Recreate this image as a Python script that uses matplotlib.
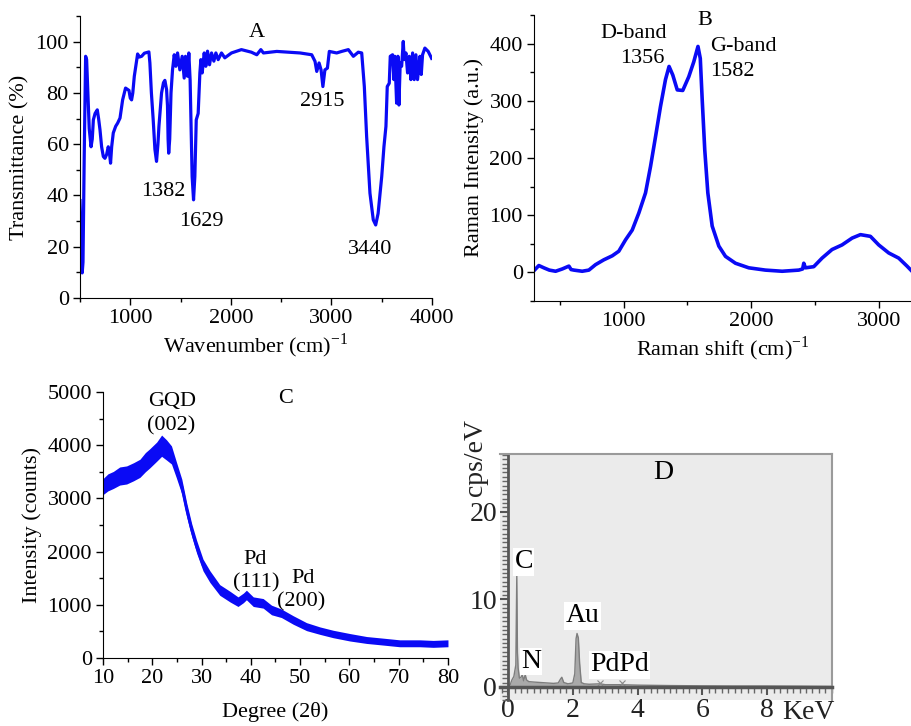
import matplotlib
matplotlib.use("Agg")
import numpy as np
import matplotlib.pyplot as plt
from matplotlib.ticker import MultipleLocator

# (A) FTIR spectrum
ir_wavenumber = [500, 507, 512, 522, 530, 542, 556, 566, 576, 592,
                 610, 622, 633, 650, 672, 685, 699, 715, 732, 748,
                 765, 781, 792, 804, 815, 831, 855, 874, 898, 924,
                 953, 987, 1000, 1013, 1025, 1040, 1073, 1090, 1113, 1140,
                 1185, 1195, 1210, 1228, 1245, 1261, 1275, 1285, 1311, 1330,
                 1344, 1361, 1370, 1376, 1382, 1392, 1405, 1420, 1437, 1453,
                 1470, 1493, 1516, 1536, 1549, 1569, 1582, 1595, 1602, 1615,
                 1629, 1642, 1656, 1675, 1692, 1702, 1715, 1735, 1751, 1768,
                 1788, 1808, 1831, 1851, 1874, 1907, 1940, 2006, 2105, 2204,
                 2258, 2298, 2324, 2457, 2688, 2804, 2837, 2854, 2877, 2897,
                 2915, 2935, 2960, 2979, 3052, 3102, 3168, 3218, 3267, 3301,
                 3327, 3350, 3383, 3416, 3440, 3464, 3500, 3522, 3542, 3555,
                 3575, 3585, 3608, 3621, 3631, 3648, 3661, 3671, 3684, 3698,
                 3714, 3724, 3741, 3757, 3774, 3790, 3807, 3823, 3840, 3856,
                 3880, 3893, 3906, 3929, 3962, 3996]
ir_transmittance = [38, 30, 11, 9.8, 14, 55, 94.3, 93, 82.5, 66,
                    59, 62, 69.5, 72, 73.4, 70, 65.6, 59, 55.2, 54.5,
                    56, 59, 57, 52.6, 59, 64.4, 67, 68.2, 70.2, 77.3,
                    81.9, 81, 78, 77.3, 80, 86.5, 95.2, 94, 94.3, 95.5,
                    96, 91.7, 80, 69.5, 58, 53.3, 60, 67, 80, 84,
                    84.9, 81.3, 75, 62, 56.5, 62, 80, 89, 94.9, 90.4,
                    95.6, 89, 94.3, 85.8, 94.3, 86.5, 95.6, 85, 72.1, 47.4,
                    38.3, 47.4, 69.5, 72, 87.8, 93, 87.8, 95.6, 90.4, 96.3,
                    91, 95.6, 92.4, 95.6, 93, 95.6, 93.7, 95.6, 96.9, 95.9,
                    94.9, 96.9, 95.6, 96.2, 95.6, 94.9, 92.3, 88.4, 91.7, 89,
                    82.5, 89, 89.7, 96.2, 95.6, 96.2, 96.9, 94.3, 95.9, 95.6,
                    82.5, 63, 40.9, 30.5, 28.5, 33, 47.4, 59, 67, 82.5,
                    83.8, 94.3, 94.9, 85.2, 94.3, 76, 94.3, 75.3, 91.7, 90.4,
                    100.1, 93, 95.6, 87.8, 94.3, 85.2, 95.6, 85.2, 94.9, 85.2,
                    94.3, 87.2, 94.9, 97.5, 96.2, 93.5]
ir_peaks = ["1382", "1629", "2915", "3440"]

# (B) Raman spectrum
raman_shift = [300, 338, 377, 420, 469, 521, 573, 590, 612, 677,
               729, 781, 846, 912, 963, 1016, 1068, 1120, 1172, 1211,
               1250, 1289, 1328, 1356, 1385, 1420, 1463, 1510, 1549, 1582,
               1600, 1615, 1635, 1659, 1693, 1745, 1797, 1875, 1979, 2109,
               2240, 2370, 2400, 2409, 2422, 2487, 2552, 2630, 2708, 2787,
               2852, 2930, 2995, 3073, 3151, 3216, 3255]
raman_intensity = [3, 12, 8, 4, 2, 6, 11, 5, 4, 2,
                   4, 13.5, 22, 29, 37, 57, 74, 104, 139, 185,
                   237, 290, 337, 360, 345, 319, 318, 342, 368, 395,
                   374, 302, 214, 139, 81, 46, 28, 16, 8, 4,
                   2, 4, 6, 16, 8, 10, 25, 40, 48, 60,
                   66, 63, 48, 34, 25, 11, 2]

# (C) XRD pattern: mean counts and half-width of the noise band
xrd_deg = [10, 11, 12.1, 13.4, 14.8, 16.2, 17.5, 18.6, 19.5, 20.9,
           21.9, 22.9, 23.9, 24.9, 26, 27, 28, 29, 30.3, 31.7,
           33.7, 35.8, 37.4, 38.5, 39.1, 40.5, 42.5, 44.2, 46.2, 48.6,
           51.3, 54, 56.7, 60.1, 63.5, 66.9, 70.2, 74.3, 77, 80]
xrd_counts = [3220, 3300, 3346, 3420, 3440, 3500, 3565, 3680, 3753, 3878,
              3990, 3910, 3816, 3534, 3220, 2782, 2406, 2092, 1748, 1529,
              1278, 1152, 1058, 1130, 1184, 1058, 1027, 902, 840, 714,
              589, 514, 451, 389, 338, 307, 276, 276, 265, 276]
xrd_noise = [150, 160, 160, 170, 170, 170, 170, 180, 180, 180,
             200, 190, 170, 150, 140, 130, 120, 120, 110, 110,
             100, 100, 90, 90, 90, 90, 90, 90, 80, 80,
             75, 70, 70, 70, 65, 65, 65, 65, 65, 65]

# (D) EDS spectrum
eds_kev = [0.0, 0.06, 0.12, 0.18, 0.24, 0.27, 0.29, 0.31, 0.35, 0.40,
           0.44, 0.48, 0.53, 0.57, 0.64, 0.80, 1.0, 1.2, 1.4, 1.55,
           1.62, 1.66, 1.72, 1.85, 2.0, 2.06, 2.1, 2.13, 2.17, 2.21,
           2.26, 2.35, 2.5, 2.84, 3.0, 3.5, 4.0, 5.0, 6.0, 7.0,
           8.0, 9.0, 10.0]
eds_cps = [0.0, 0.2, 0.8, 1.2, 2.5, 12.8, 4.0, 2.2, 1.0, 1.1,
           1.4, 0.7, 1.4, 0.8, 0.6, 0.55, 0.5, 0.45, 0.4, 0.45,
           0.9, 1.1, 0.5, 0.35, 0.45, 1.5, 5.5, 6.1, 5.6, 2.7,
           0.5, 0.35, 0.3, 0.35, 0.25, 0.25, 0.2, 0.15, 0.12, 0.1,
           0.1, 0.08, 0.05]
pd_lines = [2.84, 3.52]

plt.rcParams["font.family"] = ["Liberation Serif", "DejaVu Serif"]
plt.rcParams["font.size"] = 16
plt.rcParams["mathtext.fontset"] = "custom"
plt.rcParams["mathtext.rm"] = "Liberation Serif"

BLUE = "#0a0af5"

fig = plt.figure(figsize=(9.12, 7.26), dpi=100)


def tidy(ax):
    ax.spines["top"].set_visible(False)
    ax.spines["right"].set_visible(False)
    ax.tick_params(which="major", direction="out", length=5, width=1, labelsize=16, pad=3)
    ax.tick_params(which="minor", direction="out", length=3, width=1)


# --- A ---
ax = fig.add_axes([0.0877, 0.5895, 0.386, 0.3884])
ax.plot(ir_wavenumber, ir_transmittance, color=BLUE, lw=2.3)
ax.set_xlim(500, 4000)
ax.set_ylim(0, 110)
ax.set_xticks([1000, 2000, 3000, 4000])
ax.set_yticks(range(0, 101, 20))
ax.xaxis.set_minor_locator(MultipleLocator(500))
ax.yaxis.set_minor_locator(MultipleLocator(10))
tidy(ax)
ax.set_xlabel("Wavenumber (cm)$^{-1}$", labelpad=2)
ax.set_ylabel("Transmittance (%)", labelpad=4)
ax.text(2261, 103.5, "A", ha="center", va="center")
for lbl, x, y in zip(ir_peaks, [1328, 1705, 2907, 3383], [41.4, 30, 76.5, 19]):
    ax.text(x, y, lbl, ha="center", va="center")

# --- B ---
ax = fig.add_axes([0.5855, 0.5854, 0.4145, 0.394])
ax.plot(raman_shift, raman_intensity, color=BLUE, lw=2.6)
ax.set_xlim(300, 3255)
ax.set_ylim(-50, 450)
ax.set_xticks([1000, 2000, 3000])
ax.set_yticks(range(0, 401, 100))
ax.xaxis.set_minor_locator(MultipleLocator(500))
ax.yaxis.set_minor_locator(MultipleLocator(50))
tidy(ax)
ax.set_xlabel("Raman shift (cm)$^{-1}$", labelpad=2)
ax.set_ylabel("Raman Intensity (a.u.)", labelpad=4)
ax.text(1633, 440, "B", ha="center", va="center")
ax.text(1080, 418, "D-band", ha="center", va="center")
ax.text(1148, 374, "1356", ha="center", va="center")
ax.text(1680, 394, "G-band", ha="left", va="center")
ax.text(1680, 352, "1582", ha="left", va="center")

# --- C ---
ax = fig.add_axes([0.1129, 0.0937, 0.3783, 0.3664])
xc = np.array(xrd_counts, dtype=float)
xn = np.array(xrd_noise, dtype=float)
ax.fill_between(xrd_deg, xc - xn, xc + xn, color=BLUE, lw=0)
ax.plot(xrd_deg, xc, color=BLUE, lw=2)
ax.set_xlim(10, 80)
ax.set_ylim(0, 5000)
ax.set_xticks(range(10, 81, 10))
ax.set_yticks(range(0, 5001, 1000))
ax.xaxis.set_minor_locator(MultipleLocator(5))
ax.yaxis.set_minor_locator(MultipleLocator(500))
tidy(ax)
ax.set_xlabel("Degree (2θ)", labelpad=10)
ax.set_ylabel("Intensity (counts)", labelpad=4)
ax.text(47.1, 4868, "C", ha="center", va="center")
ax.text(24, 4818, "GQD", ha="center", va="center")
ax.text(23.9, 4361, "(002)", ha="center", va="center")
ax.text(40.8, 1842, "Pd", ha="center", va="center")
ax.text(41.2, 1404, "(111)", ha="center", va="center")
ax.text(50.6, 1485, "Pd", ha="center", va="center")
ax.text(50.3, 1047, "(200)", ha="center", va="center")

# --- D ---
ax = fig.add_axes([0.5482, 0.0358, 0.364, 0.3388])
ax.set_facecolor("#ebebeb")
ax.fill_between(eds_kev, 0, eds_cps, color="#a9a9a9", lw=0)
ax.plot(eds_kev, eds_cps, color="#7d7d7d", lw=1)
ax.plot(pd_lines, [0.45, 0.45], ls="none", marker="x", ms=5, color="#8a8a8a", mew=0.8)
ax.set_xlim(-0.25, 10)
ax.set_ylim(-1.5, 26.6)
ax.spines["left"].set_position(("data", 0))
ax.spines["bottom"].set_position(("data", 0))
ax.spines["left"].set_color("#555555")
ax.spines["left"].set_linewidth(2)
ax.spines["bottom"].set_color("#555555")
ax.spines["bottom"].set_linewidth(2.5)
for s in ("top", "right"):
    ax.spines[s].set_color("#9a9a9a")
    ax.spines[s].set_linewidth(1.5)
ax.set_xticks([0, 2, 4, 6, 8])
ax.set_yticks([0, 10, 20])
ax.xaxis.set_minor_locator(MultipleLocator(0.2))
ax.yaxis.set_minor_locator(MultipleLocator(0.5))
ax.tick_params(which="major", direction="out", length=6, width=1.5, color="#555555",
               labelsize=20, labelcolor="#222222", pad=2)
ax.tick_params(which="minor", direction="out", length=4, width=1, color="#666666")
ax.text(8.45, -1.5, "KeV", ha="left", va="top", fontsize=20, color="#222222")
fig.text(0.521, 0.37, "cps/eV", rotation=90, ha="center", va="center", fontsize=20, color="#222222")
box = dict(facecolor="white", edgecolor="none", pad=1)
ax.text(0.2, 14.3, "C", ha="left", va="center", fontsize=20, bbox=box)
ax.text(0.71, 2.9, "N", ha="center", va="center", fontsize=20, bbox=box)
ax.text(2.3, 8.1, "Au", ha="center", va="center", fontsize=20, bbox=box)
ax.text(3.44, 2.5, "PdPd", ha="center", va="center", fontsize=20, bbox=box)
ax.text(4.8, 24.5, "D", ha="center", va="center", fontsize=20)

fig.savefig("out.png", dpi=100)
